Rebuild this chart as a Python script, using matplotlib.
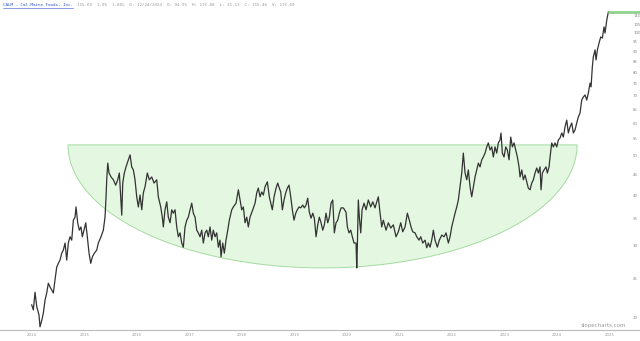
import numpy as np
import matplotlib
matplotlib.use("Agg")
import matplotlib.pyplot as plt
from matplotlib.lines import Line2D
from matplotlib.ticker import NullLocator

# CALM price path (decimal years, price)
years = [
    2013.994, 2014.025, 2014.057, 2014.090, 2014.133, 2014.152, 2014.185, 2014.215, 2014.248, 2014.280,
    2014.310, 2014.343, 2014.375, 2014.406, 2014.438, 2014.470, 2014.501, 2014.533, 2014.566, 2014.596,
    2014.629, 2014.661, 2014.691, 2014.724, 2014.756, 2014.787, 2014.819, 2014.838, 2014.870, 2014.901,
    2014.933, 2014.958, 2014.990, 2015.023, 2015.053, 2015.086, 2015.118, 2015.149, 2015.187, 2015.232,
    2015.263, 2015.314, 2015.358, 2015.390, 2015.410, 2015.423, 2015.442, 2015.467, 2015.505, 2015.549,
    2015.594, 2015.632, 2015.663, 2015.690, 2015.709, 2015.728, 2015.758, 2015.790, 2015.834, 2015.867,
    2015.899, 2015.930,
    2015.962, 2015.994, 2016.025, 2016.057, 2016.090, 2016.120, 2016.152, 2016.196, 2016.234, 2016.280,
    2016.324, 2016.375, 2016.406, 2016.451, 2016.482, 2016.501, 2016.533, 2016.566, 2016.596, 2016.629,
    2016.661, 2016.691, 2016.724, 2016.756, 2016.787, 2016.819, 2016.851, 2016.882, 2016.914, 2016.947,
    2016.977, 2017.010, 2017.042, 2017.072, 2017.105, 2017.137, 2017.168, 2017.200, 2017.232, 2017.263,
    2017.295, 2017.328, 2017.358, 2017.390, 2017.423, 2017.453, 2017.486, 2017.518, 2017.549, 2017.581,
    2017.600, 2017.632, 2017.663, 2017.695, 2017.728, 2017.758, 2017.804, 2017.834, 2017.886, 2017.930,
    2017.962, 2017.994, 2018.025, 2018.057, 2018.090, 2018.120, 2018.152, 2018.204, 2018.248, 2018.280,
    2018.310, 2018.343, 2018.375, 2018.406, 2018.438, 2018.482, 2018.520, 2018.547, 2018.577, 2018.610,
    2018.648, 2018.680, 2018.710, 2018.737, 2018.768, 2018.800, 2018.832, 2018.863, 2018.895, 2018.928,
    2018.958, 2018.990, 2019.023, 2019.053, 2019.086, 2019.118, 2019.156, 2019.187, 2019.219, 2019.251,
    2019.282, 2019.314, 2019.347, 2019.377, 2019.410, 2019.442, 2019.472, 2019.505, 2019.537, 2019.568,
    2019.600, 2019.632, 2019.663, 2019.695, 2019.728, 2019.758, 2019.790, 2019.823, 2019.853, 2019.886,
    2019.930, 2019.981, 2020.006, 2020.038, 2020.070, 2020.101, 2020.133,
    2020.171, 2020.185, 2020.196, 2020.215, 2020.234, 2020.261, 2020.286, 2020.324, 2020.362, 2020.406,
    2020.451, 2020.490, 2020.533, 2020.566, 2020.596, 2020.629, 2020.661, 2020.691, 2020.743, 2020.787,
    2020.832, 2020.882, 2020.933, 2020.977, 2021.023, 2021.061, 2021.105, 2021.149, 2021.187, 2021.219,
    2021.251, 2021.295, 2021.328, 2021.371, 2021.404, 2021.442, 2021.486, 2021.518, 2021.549, 2021.581,
    2021.613, 2021.644, 2021.676, 2021.720, 2021.758, 2021.804, 2021.848, 2021.886, 2021.930, 2021.962,
    2021.994, 2022.025, 2022.057, 2022.090, 2022.120, 2022.152, 2022.185, 2022.215,
    2022.248, 2022.280, 2022.310, 2022.343, 2022.375, 2022.406, 2022.438, 2022.470, 2022.501, 2022.533,
    2022.566, 2022.596, 2022.629, 2022.661, 2022.691, 2022.724, 2022.756, 2022.787, 2022.819, 2022.851,
    2022.882, 2022.914, 2022.933, 2022.958, 2022.990, 2023.023, 2023.053, 2023.086, 2023.118, 2023.149,
    2023.181, 2023.213, 2023.244, 2023.276, 2023.295, 2023.328, 2023.358, 2023.390, 2023.423, 2023.453,
    2023.486, 2023.518, 2023.549, 2023.581, 2023.613, 2023.644, 2023.676, 2023.695, 2023.720, 2023.752,
    2023.790, 2023.815, 2023.848, 2023.867, 2023.899, 2023.930, 2023.962, 2023.994, 2024.025, 2024.057,
    2024.090, 2024.120, 2024.152, 2024.185, 2024.215, 2024.248, 2024.280, 2024.310, 2024.343, 2024.375,
    2024.406, 2024.438, 2024.470, 2024.501, 2024.533, 2024.566, 2024.596, 2024.629, 2024.648, 2024.672,
    2024.691, 2024.724, 2024.743, 2024.768, 2024.800, 2024.832, 2024.863, 2024.895, 2024.914, 2024.947,
    2024.977,
]
close = [
    21.5, 20.9, 23.1, 21.3, 20.3, 19.0, 19.7, 20.5, 22.1, 23.0,
    24.3, 23.8, 23.4, 23.0, 24.8, 26.6, 27.2, 27.7, 28.8, 29.3,
    30.5, 27.7, 30.5, 31.6, 31.0, 34.7, 35.3, 37.4, 34.2, 32.8,
    33.4, 31.6, 32.8, 34.2, 31.6, 28.8, 27.2, 28.2, 28.8, 29.3,
    30.5, 31.6, 32.8, 35.3, 39.6, 43.6, 47.9, 45.3, 44.3, 43.6,
    42.3, 43.6, 45.3, 39.6, 35.7, 42.8, 45.3, 46.9, 48.8, 50.2,
    46.9, 46.1,
    43.6, 39.6, 37.4, 40.0, 36.8, 40.5, 41.9, 45.3, 43.6, 44.3,
    42.8, 43.6, 39.6, 37.4, 35.3, 33.4, 36.8, 38.5, 35.3, 34.2,
    36.8, 36.1, 36.8, 33.4, 31.6, 32.3, 30.5, 29.8, 33.4, 34.7,
    35.3, 36.8, 38.2, 36.1, 35.3, 32.8, 32.3, 31.6, 32.8, 30.5,
    32.3, 32.8, 31.6, 33.4, 31.0, 32.8, 31.6, 32.3, 29.8, 31.0,
    28.2, 30.5, 28.8, 31.0, 32.8, 34.7, 36.8, 37.4, 38.2, 41.2,
    38.9, 36.8, 37.4, 34.2, 35.3, 33.4, 35.3, 36.8, 38.2, 40.5,
    41.6, 39.6, 40.7, 40.0, 41.9, 43.1, 39.6, 38.2, 36.8, 39.6,
    41.6, 42.8, 41.6, 40.7, 36.8, 38.9, 40.5, 41.6, 42.3, 39.6,
    36.8, 34.7, 36.1, 36.8, 37.4, 37.2, 37.8, 37.2, 37.8, 39.3,
    36.3, 35.1, 36.1, 35.1, 31.6, 33.8, 35.3, 34.2, 32.8, 33.8,
    36.1, 34.2, 35.3, 38.2, 38.9, 32.3, 34.2, 34.7, 36.1, 37.2,
    37.2, 36.3, 33.4, 32.3, 32.8, 31.6, 30.5,
    30.5, 26.5, 29.8, 38.9, 35.3, 32.3, 36.8, 38.2, 36.8, 38.9,
    37.4, 38.5, 37.2, 38.5, 39.6, 36.1, 33.4, 34.7, 32.8, 34.2,
    33.2, 33.8, 31.6, 32.5, 34.2, 32.5, 33.4, 36.1, 34.7, 33.4,
    32.5, 32.3, 31.6, 31.0, 31.6, 30.5, 31.0, 29.7, 30.5, 29.8,
    31.0, 32.8, 31.0, 29.8, 31.0, 31.9, 31.6, 32.3, 30.5, 31.6,
    33.4, 34.7, 36.1, 37.4, 38.9, 41.9, 45.3, 50.7,
    45.3, 43.6, 46.1, 41.9, 39.6, 41.9, 44.3, 46.1, 47.9, 46.9,
    48.8, 49.6, 50.7, 52.5, 53.7, 51.6, 52.5, 49.6, 52.5, 50.7,
    53.7, 54.6, 56.8, 50.7, 49.6, 52.5, 51.6, 48.8, 55.5, 52.5,
    53.7, 51.6, 49.6, 46.9, 44.3, 46.1, 43.6, 44.8, 43.1, 41.6,
    41.2, 42.8, 43.6, 45.3, 46.6, 45.3, 46.9, 41.2, 45.3, 46.1,
    46.9, 45.3, 46.9, 49.6, 53.7, 52.5, 53.7, 52.5, 54.6, 55.2,
    56.8, 55.5, 58.8, 61.1, 56.8, 58.8, 60.1, 56.8, 57.8, 60.1,
    62.2, 63.6, 68.4, 69.6, 70.4, 68.4, 71.2, 75.3, 73.7, 82.5,
    87.3, 90.8, 85.8, 90.8, 94.4, 97.7, 97.1, 103.4, 99.9, 107.5,
    112.5,
]

# axis labels
price_ticks = list(range(20, 115, 5))
year_ticks = list(range(2014, 2026))

# the drawn "bowl" annotation
bowl_start, bowl_end = 2014.686, 2024.381
bowl_top, bowl_bottom = 53.1, 26.5

title_name = "CALM - Cal-Maine Foods, Inc."
title_stats = "115.69  1.06  1.00%  D: 12/24/2024  O: 94.91  H: 115.88  L: 31.13  C: 115.46  V: 115.69"

fig = plt.figure(figsize=(6.4, 3.41), dpi=100)
ax = fig.add_axes([0, 11 / 341, 1, 330 / 341])

# bowl: lower half of an ellipse in (time, log price), closed by a flat top
theta = np.linspace(0, np.pi, 300)
cx = (bowl_start + bowl_end) / 2
a = (bowl_end - bowl_start) / 2
bx = cx - a * np.cos(theta)
by = np.exp(np.log(bowl_top) + (np.log(bowl_bottom) - np.log(bowl_top)) * np.sin(theta))
ax.fill(bx, by, facecolor="#e3f7e1", edgecolor="#a5dba0", lw=0.7, zorder=1)

ax.plot(years, close, color="#333333", lw=0.9, zorder=3)

ax.set_yscale("log")
ax.set_xlim(2013.39, 2025.58)
ax.set_ylim(18.66, 120.4)

# last price marker running to the right edge
ax.hlines(close[-1], years[-1], 2025.58, color="#8fd18f", lw=2, zorder=4)

ax.yaxis.tick_right()
ax.yaxis.set_minor_locator(NullLocator())
ax.set_yticks(price_ticks)
ax.set_yticklabels([str(v) for v in price_ticks])
ax.tick_params(axis="y", length=0, pad=-5, labelsize=2.8, labelcolor="#888888")

ax.set_xticks(year_ticks)
ax.set_xticklabels([str(v) for v in year_ticks])
ax.tick_params(axis="x", length=0, pad=2, labelsize=2.8, labelcolor="#999999")

for s in ["top", "left", "right"]:
    ax.spines[s].set_visible(False)
ax.spines["bottom"].set_color("#bbbbbb")
ax.spines["bottom"].set_linewidth(0.8)

fig.text(626 / 640, 1 - 325 / 341, "slopecharts.com", ha="right", va="center",
         fontsize=4, color="#999999")

# header: ticker name (blue, underlined) then stats in grey
t1 = fig.text(3 / 640, 1 - 5 / 341, title_name, fontsize=3.1, family="DejaVu Sans Mono",
              color="#3355cc", va="center")
fig.canvas.draw()
bb = t1.get_window_extent()
fig.add_artist(Line2D([bb.x0 / 640, bb.x1 / 640], [(bb.y0 - 0.5) / 341, (bb.y0 - 0.5) / 341],
                      transform=fig.transFigure, color="#3355cc", lw=0.4))
fig.text((bb.x1 + 4) / 640, 1 - 5 / 341, title_stats, fontsize=3.1, family="DejaVu Sans Mono",
         color="#999999", va="center")

fig.savefig("out.png", dpi=100)
